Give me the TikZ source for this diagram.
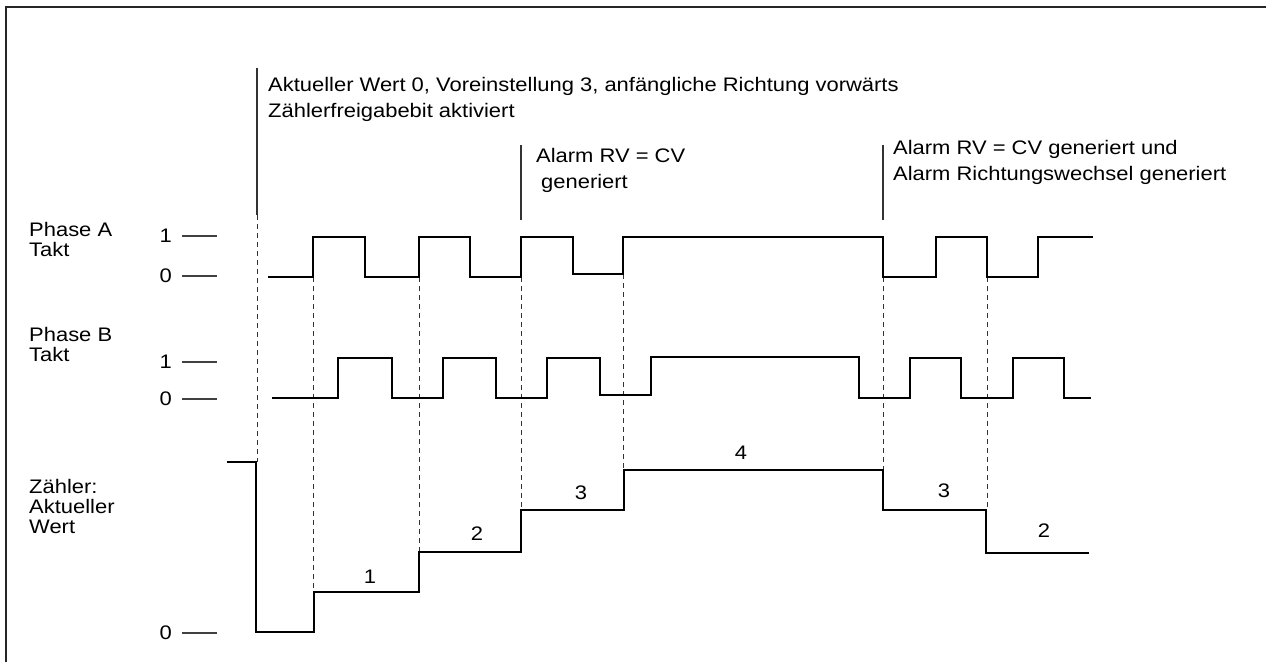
\documentclass[tikz,border=0pt]{standalone}
\usepackage{fontspec}
\setmainfont{Liberation Sans}[FakeStretch=1.12]
\begin{document}
\begin{tikzpicture}[x=1pt,y=-1pt,
  sigA/.style={line width=2.8pt,black,line join=miter},
  sigB/.style={line width=2.4pt,black,line join=miter},
  tickln/.style={line width=1.3pt,black!75},
  guide/.style={line width=1pt,black!80,dash pattern=on 5pt off 4pt},
  marker/.style={line width=1.1pt,black!80},
  txt/.style={inner sep=0pt,anchor=base west,font=\fontsize{19.6}{24}\selectfont},
  lvl/.style={inner sep=0pt,anchor=east,font=\fontsize{19.6}{24}\selectfont},
  num/.style={inner sep=0pt,anchor=center,font=\fontsize{19.6}{24}\selectfont}]
\useasboundingbox (0,0) rectangle (1266,662);
% frame
\draw[line width=2.6pt,black!85] (6,662) -- (6,7) -- (1266,7);

% header texts
\node[txt] (h1) at (268,91) {Aktueller Wert 0, Voreinstellung 3, anfängliche Richtung vorwärts};
\node[txt] (h2) at (268,117) {Zählerfreigabebit aktiviert};
\node[txt] (a1) at (536,162) {Alarm RV = CV};
\node[txt] (a2) at (541,188) {generiert};
\node[txt] (b1) at (893,154) {Alarm RV = CV generiert und};
\node[txt] (b2) at (893,180) {Alarm Richtungswechsel generiert};

% left labels
\node[txt] (pa1) at (29,236) {Phase A};
\node[txt] (pa2) at (29,256) {Takt};
\node[txt] (pb1) at (29,341) {Phase B};
\node[txt] (pb2) at (29,361) {Takt};
\node[txt] (z1) at (29,493) {Zähler:};
\node[txt] (z2) at (29,513) {Aktueller};
\node[txt] (z3) at (29,533) {Wert};

% level labels and ticks
\node[lvl] (la1) at (172,236) {1};
\node[lvl] (la0) at (172,276) {0};
\node[lvl] (lb1) at (172,362) {1};
\node[lvl] (lb0) at (172,399) {0};
\node[lvl] (lc0) at (172,633) {0};
\draw[tickln] (182,236) -- (217,236);
\draw[tickln] (182,276) -- (217,276);
\draw[tickln] (182,362) -- (217,362);
\draw[tickln] (182,399) -- (217,399);
\draw[tickln] (182,633) -- (217,633);

% marker (solid) lines
\draw[marker] (257,68) -- (257,215);
\draw[marker] (521,145) -- (521,220);
\draw[marker] (883,145) -- (883,220);

% dashed guide lines
\draw[guide] (257,215) -- (257,462);
\draw[guide] (313,277) -- (313,592);
\draw[guide] (419,277) -- (419,552);
\draw[guide] (521,277) -- (521,510);
\draw[guide] (623,274) -- (623,470);
\draw[guide] (883,277) -- (883,470);
\draw[guide] (987,277) -- (987,510);

% Phase A
\draw[sigA] (268,277) -- (313,277) -- (313,237) -- (365,237) -- (365,277)
  -- (419,277) -- (419,237) -- (470,237) -- (470,277) -- (521,277)
  -- (521,237) -- (573,237) -- (573,274) -- (623,274) -- (623,237)
  -- (883,237) -- (883,277) -- (936,277) -- (936,237) -- (987,237)
  -- (987,277) -- (1038,277) -- (1038,237) -- (1093,237);

% Phase B
\draw[sigB] (272,398) -- (338,398) -- (338,358) -- (392,358) -- (392,398)
  -- (443,398) -- (443,358) -- (496,358) -- (496,398) -- (547,398)
  -- (547,358) -- (600,358) -- (600,395) -- (651,395) -- (651,357)
  -- (859,357) -- (859,398) -- (910,398) -- (910,358) -- (961,358)
  -- (961,398) -- (1013,398) -- (1013,358) -- (1064,358) -- (1064,398)
  -- (1091,398);

% Counter
\draw[sigA] (227,462) -- (256,462) -- (256,632) -- (314,632) -- (314,592)
  -- (419,592) -- (419,552) -- (521,552) -- (521,510) -- (624,510)
  -- (624,470) -- (883,470) -- (883,510) -- (986,510) -- (986,553)
  -- (1089,553);

% counter values
\node[num] (c1) at (370,577) {1};
\node[num] (c2) at (477,534) {2};
\node[num] (c3) at (581,493) {3};
\node[num] (c4) at (741,453) {4};
\node[num] (c5) at (944,491) {3};
\node[num] (c6) at (1044,531) {2};
\end{tikzpicture}
\end{document}
